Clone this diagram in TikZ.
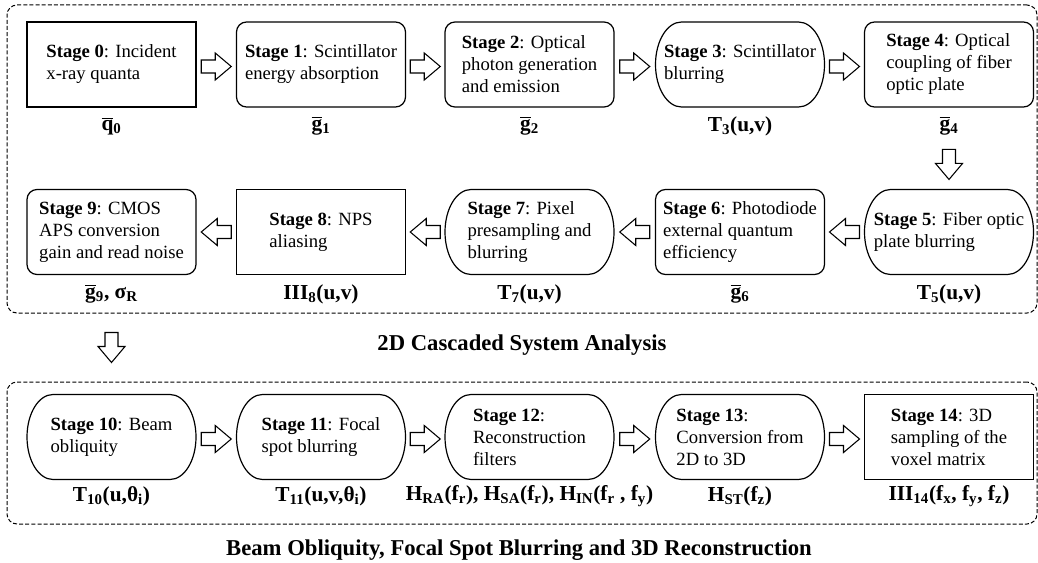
\documentclass[tikz,border=0pt]{standalone}
\usepackage{fontspec}
\setmainfont{Liberation Serif}
\usetikzlibrary{calc}
\newcommand{\ob}[1]{$\overline{\hbox{#1}}$}
\tikzset{
  stg/.style={minimum width=126.75pt, minimum height=63.75pt, inner sep=0pt, outer sep=0pt, align=left, font=\fontsize{14}{16.5}\selectfont, line width=0.9pt},
  sqbox/.style={stg, draw},
  rbox/.style={stg, draw, rounded corners=7.5pt},
  pill/.style={stg},
  lab/.style={font=\fontsize{16}{19}\selectfont\bfseries, inner sep=0pt},
  ttl/.style={font=\fontsize{17}{20}\selectfont\bfseries, inner sep=0pt},
  frame/.style={draw, dash pattern=on 3pt off 1.6pt, line width=0.75pt, rounded corners=7.5pt, inner sep=0pt, outer sep=0pt, anchor=north west},
  blk/.pic={\draw[line width=0.8pt, fill=white, line join=miter] (-15,-6.5) -- (-1,-6.5) -- (-1,-13.5) -- (15,0) -- (-1,13.5) -- (-1,6.5) -- (-15,6.5) -- cycle;}
}
\begin{document}
\begin{tikzpicture}[x=0.75pt, y=-0.75pt]
\useasboundingbox (0,0) rectangle (1038,563);
% frames
\node[frame, minimum width=772.5pt, minimum height=231pt] (topframe) at (7,5) {};
\node[frame, minimum width=772.5pt, minimum height=106.5pt] (botframe) at (7,382) {};
% row 1
\node[sqbox] (s0) at (111.5,64.5) {\textbf{Stage 0}: Incident\\x-ray quanta};
\node[rbox]  (s1) at (321,64.5) {\textbf{Stage 1}: Scintillator\\energy absorption};
\node[rbox]  (s2) at (529.5,64.5) {\textbf{Stage 2}: Optical\\photon generation\\and emission};
\node[pill]  (s3) at (740,64.5) {\textbf{Stage 3}: Scintillator\\blurring};
\node[rbox]  (s4) at (949,64.5) {\textbf{Stage 4}: Optical\\coupling of fiber\\optic plate};
% row 2
\node[pill]  (s5) at (949,232) {\textbf{Stage 5}: Fiber optic\\plate blurring};
\node[rbox]  (s6) at (740,232) {\textbf{Stage 6}: Photodiode\\external quantum\\efficiency};
\node[pill]  (s7) at (529.5,232) {\textbf{Stage 7}: Pixel\\presampling and\\blurring};
\node[sqbox] (s8) at (321,232) {\textbf{Stage 8}: NPS\\aliasing};
\node[rbox]  (s9) at (111.5,232) {\textbf{Stage 9}: CMOS\\APS conversion\\gain and read noise};
% row 3
\node[pill]  (s10) at (111.5,437) {\textbf{Stage 10}: Beam\\obliquity};
\node[pill]  (s11) at (321,437) {\textbf{Stage 11}: Focal\\spot blurring};
\node[pill]  (s12) at (529.5,437) {\textbf{Stage 12}:\\Reconstruction\\filters};
\node[pill]  (s13) at (740,437) {\textbf{Stage 13}:\\Conversion from\\2D to 3D};
\node[sqbox] (s14) at (949,437) {\textbf{Stage 14}: 3D\\sampling of the\\voxel matrix};
% pill outlines
\foreach \n in {s3,s5,s7,s10,s11,s12,s13}
  \draw[line width=0.9pt] ([xshift=19.5pt]\n.north west) -- ([xshift=-19.5pt]\n.north east)
    arc[start angle=90, end angle=-90, x radius=19.5pt, y radius=31.875pt]
    -- ([xshift=19.5pt]\n.south west)
    arc[start angle=270, end angle=90, x radius=19.5pt, y radius=31.875pt] -- cycle;
% labels
\node[lab] (l0) at (111.5,126) {\ob{q}\textsubscript{0}};
\node[lab] (l1) at (321,126) {\ob{g}\textsubscript{1}};
\node[lab] (l2) at (529.5,126) {\ob{g}\textsubscript{2}};
\node[lab] (l3) at (740,126) {T\textsubscript{3}(u,v)};
\node[lab] (l4) at (949,126) {\ob{g}\textsubscript{4}};
\node[lab] (l5) at (949,294) {T\textsubscript{5}(u,v)};
\node[lab] (l6) at (740,294) {\ob{g}\textsubscript{6}};
\node[lab] (l7) at (529.5,294) {T\textsubscript{7}(u,v)};
\node[lab] (l8) at (321,294) {III\textsubscript{8}(u,v)};
\node[lab] (l9) at (111.5,294) {\ob{g}\textsubscript{9}, σ\textsubscript{R}};
\node[lab] (l10) at (111.5,496) {T\textsubscript{10}(u,θ\textsubscript{i})};
\node[lab] (l11) at (321,496) {T\textsubscript{11}(u,v,θ\textsubscript{i})};
\node[lab] (l12) at (529.5,496) {H\textsubscript{RA}(f\textsubscript{r}), H\textsubscript{SA}(f\textsubscript{r}), H\textsubscript{IN}(f\textsubscript{r} , f\textsubscript{y})};
\node[lab] (l13) at (740,496) {H\textsubscript{ST}(f\textsubscript{z})};
\node[lab] (l14) at (949,496) {III\textsubscript{14}(f\textsubscript{x}, f\textsubscript{y}, f\textsubscript{z})};
% titles
\node[ttl] (t1) at ($(topframe.south)!0.5!(botframe.north)+(0,-2)$) {2D Cascaded System Analysis};
\node[ttl] (t2) at (519,550) {Beam Obliquity, Focal Spot Blurring and 3D Reconstruction};
% block arrows
\pic at ($(s0.east)!0.5!(s1.west)+(0,2)$) {blk};
\pic at ($(s1.east)!0.5!(s2.west)+(0,2)$) {blk};
\pic at ($(s2.east)!0.5!(s3.west)+(0,2)$) {blk};
\pic at ($(s3.east)!0.5!(s4.west)+(0,2)$) {blk};
\pic[rotate=-90] at ($(l4.south)!0.5!(s5.north)+(0,2)$) {blk};
\pic[rotate=180] at ($(s5.west)!0.5!(s6.east)$) {blk};
\pic[rotate=180] at ($(s6.west)!0.5!(s7.east)$) {blk};
\pic[rotate=180] at ($(s7.west)!0.5!(s8.east)$) {blk};
\pic[rotate=180] at ($(s8.west)!0.5!(s9.east)$) {blk};
\pic[rotate=-90] at ($(topframe.south -| s9.south)!0.5!(botframe.north -| s9.south)$) {blk};
\pic at ($(s10.east)!0.5!(s11.west)+(0,2)$) {blk};
\pic at ($(s11.east)!0.5!(s12.west)+(0,2)$) {blk};
\pic at ($(s12.east)!0.5!(s13.west)+(0,2)$) {blk};
\pic at ($(s13.east)!0.5!(s14.west)+(0,2)$) {blk};
\end{tikzpicture}
\end{document}
